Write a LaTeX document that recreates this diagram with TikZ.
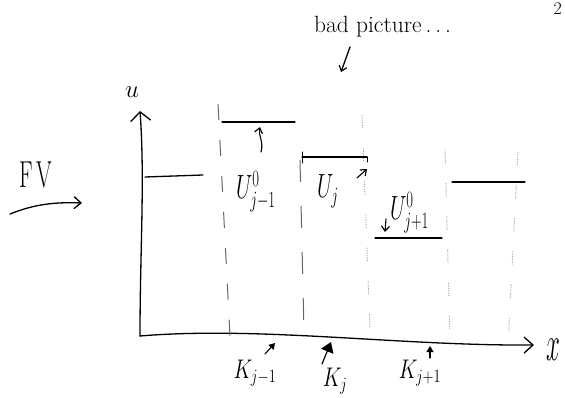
\documentclass[tikz,border=0pt]{standalone}
\usetikzlibrary{arrows.meta}
\begin{document}
\begin{tikzpicture}[x=1pt,y=-1pt,
  pen/.style={line width=1.3pt, line cap=round, line join=round},
  barb/.style={-{Straight Barb[length=5pt,width=8pt,line width=1.2pt]}},
  gridA/.style={line width=1pt, black!60, dash pattern=on 16pt off 20pt},
  gridB/.style={line width=0.9pt, black!35, dash pattern=on 1.2pt off 1.2pt on 1.2pt off 1.2pt on 1.2pt off 1.2pt on 1.2pt off 1.2pt on 1.2pt off 1.2pt on 1.2pt off 20pt},
  lab/.style={inner sep=0pt, font=\fontsize{26}{26}\selectfont},
  klab/.style={inner sep=0pt, font=\fontsize{22}{22}\selectfont}]
\useasboundingbox (0,0) rectangle (565,398);

% corner mark
\node[inner sep=0pt, anchor=north east, font=\fontsize{18}{18}\selectfont] (corner) at (562,2.5) {2};

% remark
\node[inner sep=0pt, anchor=base west, font=\fontsize{23.5}{23.5}\selectfont] (bad) at (314,33) {bad picture\,.\,.\,.};
\coordinate (bda) at (350,47);
\coordinate (bdb) at (341,72);
\draw[pen, barb] (bda) -- (bdb);

% axes
\coordinate (O) at (140,336);
\coordinate (utop) at (140,111);
\coordinate (xend) at (534,345);
\draw[pen, -{Straight Barb[length=9pt,width=20pt,line width=1.3pt]}] (O) .. controls (140,250) and (145,180) .. (utop);
\draw[pen, -{Straight Barb[length=9pt,width=16pt,line width=1.3pt]}] (O) .. controls (260,326) and (400,346) .. (xend);
\node[inner sep=0pt, font=\fontsize{24}{24}\selectfont] (ulab) at (132,92) {$u$};
\node[inner sep=0pt, font=\fontsize{30}{30}\selectfont] (xlab) at (553,350) {\scalebox{1}[2]{$x$}};

% FV
\node[inner sep=0pt, anchor=base west, font=\fontsize{30}{30}\selectfont] (fv) at (19,188) {\scalebox{0.75}[1.25]{F\,V}};
\coordinate (fva) at (10,214);
\coordinate (fvb) at (82,203);
\draw[pen, -{Straight Barb[length=7pt,width=12pt,line width=1.3pt]}] (fva) .. controls (35,204) and (55,202) .. (fvb);

% cell boundaries
\coordinate (l1t) at (218,104); \coordinate (l1b) at (230,336);
\coordinate (l2t) at (300,160); \coordinate (l2b) at (304,332);
\coordinate (l3t) at (362,115); \coordinate (l3b) at (370,330);
\coordinate (l4t) at (445,150); \coordinate (l4b) at (450,338);
\coordinate (l5t) at (518,152); \coordinate (l5b) at (508,345);
\draw[gridA] (l1t) -- (l1b);
\draw[gridA, dash pattern=on 22pt off 24pt] (l2t) -- (l2b);
\draw[gridB] (l3t) -- (l3b);
\draw[gridB] (l4t) -- (l4b);
\draw[gridB] (l5t) -- (l5b);

% steps
\coordinate (s0a) at (145,177); \coordinate (s0b) at (203,175);
\coordinate (s1a) at (222,122); \coordinate (s1b) at (295,122);
\coordinate (s2a) at (302,157); \coordinate (s2b) at (367,157);
\coordinate (s3a) at (375,238); \coordinate (s3b) at (442,238);
\coordinate (s4a) at (452,182); \coordinate (s4b) at (525,182);
\draw[pen] (s0a) -- (s0b);
\draw[pen] (s1a) -- (s1b);
\draw[pen] (s2a) -- (s2b);
\draw[pen] (s3a) -- (s3b);
\draw[pen] (s4a) -- (s4b);
\coordinate (t2a) at (302,152); \coordinate (t2b) at (302,163);
\draw[pen, line width=1pt] (t2a) -- (t2b);
\coordinate (t3a) at (367,157); \coordinate (t3b) at (367,162);
\draw[pen, line width=1pt] (t3a) -- (t3b);

% cell values
\node[lab, anchor=base west] (U1) at (236,199) {\scalebox{0.85}[1.35]{$U^{0}_{j-1}$}};
\node[lab, anchor=base west] (U2) at (317,198) {\scalebox{0.85}[1.35]{$U_{j}$}};
\node[lab, anchor=base west] (U3) at (390,220) {\scalebox{0.85}[1.35]{$U^{0}_{j+1}$}};
\coordinate (a1a) at (261,152); \coordinate (a1b) at (260,127);
\draw[pen, line width=1.1pt, barb] (a1a) .. controls (264,142) and (258,135) .. (a1b);
\coordinate (a2a) at (357,178); \coordinate (a2b) at (367,169);
\draw[pen, line width=1.1pt, barb] (a2a) -- (a2b);
\coordinate (a3a) at (386,219); \coordinate (a3b) at (385,232);
\draw[pen, line width=1.1pt, barb] (a3a) -- (a3b);

% cells
\node[klab] (K1) at (255,373) {\scalebox{1}[1.3]{$K_{j-1}$}};
\node[klab] (K2) at (335,381) {\scalebox{1}[1.3]{$K_{j}$}};
\node[klab] (K3) at (420,373) {\scalebox{1}[1.3]{$K_{j+1}$}};
\coordinate (k1a) at (265,354); \coordinate (k1b) at (275,343);
\draw[pen, line width=1.1pt, -{Triangle[length=6pt,width=7pt]}] (k1a) -- (k1b);
\coordinate (k2a) at (322,364); \coordinate (k2b) at (331,342);
\draw[pen, line width=1.2pt, -{Triangle[length=10pt,width=13pt]}] (k2a) -- (k2b);
\coordinate (k3a) at (430,358); \coordinate (k3b) at (430,346);
\draw[pen, line width=1.1pt, -{Triangle[length=6pt,width=7pt]}] (k3a) -- (k3b);
\end{tikzpicture}
\end{document}
